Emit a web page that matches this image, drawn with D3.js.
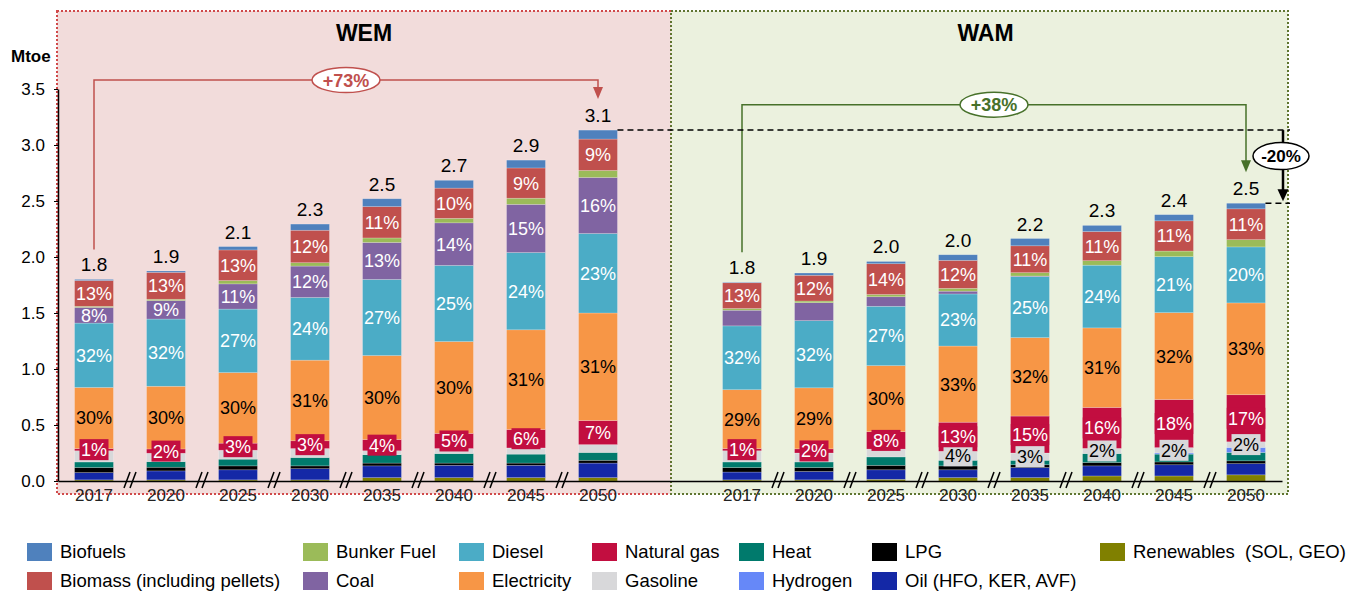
<!DOCTYPE html>
<html>
<head>
<meta charset="utf-8">
<script src="https://cdn.jsdelivr.net/npm/d3@7"></script>
<style>
  body { margin: 0; background: #fff; }
  text { font-family: "Liberation Sans", Arial, sans-serif; }
</style>
</head>
<body>
<svg id="chart" width="1353" height="591"></svg>
<script>
// ---- data (Mtoe), first 8 = WEM, last 8 = WAM ----
const years = ["2017", "2020", "2025", "2030", "2035", "2040", "2045", "2050"];
const scenarios = ["WEM", "WAM"];

// stack order, bottom to top
const seriesNames = ["Renewables", "Oil", "LPG", "Heat", "Hydrogen", "Gasoline",
  "Natural gas", "Electricity", "Diesel", "Coal", "Bunker Fuel", "Biomass", "Biofuels"];

const renewables = [0.01, 0.01, 0.01, 0.01, 0.03, 0.03, 0.03, 0.03,   0.01, 0.01, 0.015, 0.03, 0.03, 0.045, 0.045, 0.055];
const oil        = [0.065, 0.08, 0.09, 0.10, 0.105, 0.11, 0.11, 0.13,  0.07, 0.075, 0.085, 0.07, 0.09, 0.09, 0.10, 0.10];
const lpg        = [0.045, 0.033, 0.035, 0.025, 0.025, 0.02, 0.02, 0.025, 0.04, 0.035, 0.04, 0.035, 0.025, 0.03, 0.025, 0.025];
const heat       = [0.05, 0.05, 0.06, 0.075, 0.075, 0.085, 0.08, 0.07,  0.05, 0.05, 0.075, 0.05, 0.04, 0.08, 0.07, 0.075];
const hydrogen   = [0, 0, 0, 0, 0, 0, 0, 0,                             0, 0, 0, 0, 0, 0, 0.01, 0.045];
const gasoline   = [0.10, 0.075, 0.08, 0.08, 0.035, 0.045, 0.055, 0.07, 0.10, 0.08, 0.07, 0.08, 0.065, 0.046, 0.048, 0.05];
const naturalGas = [0.02, 0.038, 0.063, 0.069, 0.10, 0.135, 0.165, 0.215, 0.02, 0.037, 0.155, 0.26, 0.33, 0.366, 0.43, 0.42];
const electricity= [0.545, 0.56, 0.63, 0.72, 0.75, 0.82, 0.89, 0.96,    0.525, 0.545, 0.59, 0.68, 0.70, 0.71, 0.775, 0.82];
const diesel     = [0.575, 0.60, 0.567, 0.56, 0.68, 0.68, 0.69, 0.71,   0.57, 0.60, 0.53, 0.465, 0.545, 0.56, 0.50, 0.50];
const coal       = [0.14, 0.165, 0.225, 0.28, 0.33, 0.38, 0.43, 0.50,   0.14, 0.16, 0.085, 0.025, 0.005, 0, 0, 0];
const bunkerFuel = [0.01, 0.012, 0.03, 0.03, 0.04, 0.04, 0.055, 0.063,  0.015, 0.015, 0.02, 0.025, 0.03, 0.04, 0.05, 0.065];
const biomass    = [0.23, 0.24, 0.273, 0.29, 0.28, 0.27, 0.27, 0.28,   0.23, 0.23, 0.275, 0.25, 0.24, 0.26, 0.27, 0.275];
const biofuels   = [0.01, 0.012, 0.03, 0.055, 0.07, 0.07, 0.07, 0.08,   0.005, 0.02, 0.02, 0.05, 0.065, 0.055, 0.055, 0.05];

// share labels shown inside the bars (null = no label)
const naturalGasLabels  = ["1%", "2%", "3%", "3%", "4%", "5%", "6%", "7%", "1%", "2%", "8%", "13%", "15%", "16%", "18%", "17%"];
const electricityLabels = ["30%", "30%", "30%", "31%", "30%", "30%", "31%", "31%", "29%", "29%", "30%", "33%", "32%", "31%", "32%", "33%"];
const dieselLabels      = ["32%", "32%", "27%", "24%", "27%", "25%", "24%", "23%", "32%", "32%", "27%", "23%", "25%", "24%", "21%", "20%"];
const coalLabels        = ["8%", "9%", "11%", "12%", "13%", "14%", "15%", "16%", null, null, null, null, null, null, null, null];
const biomassLabels     = ["13%", "13%", "13%", "12%", "11%", "10%", "9%", "9%", "13%", "12%", "14%", "12%", "11%", "11%", "11%", "11%"];
const gasolineLabels    = [null, null, null, null, null, null, null, null, null, null, null, "4%", "3%", "2%", "2%", "2%"];

const changeLabels = { WEM: "+73%", WAM: "+38%", gap: "-20%" };

const colors = {
  "Biofuels": "#4F81BD",
  "Biomass": "#C0504D",
  "Bunker Fuel": "#9BBB59",
  "Coal": "#8064A2",
  "Diesel": "#4BACC6",
  "Electricity": "#F79646",
  "Natural gas": "#C20E40",
  "Gasoline": "#D8D8DA",
  "Heat": "#007A6C",
  "Hydrogen": "#6688F8",
  "LPG": "#000000",
  "Oil": "#1428A6",
  "Renewables": "#808000"
};

const legendRow1 = [["Biofuels", "Biofuels"], ["Bunker Fuel", "Bunker Fuel"], ["Diesel", "Diesel"],
  ["Natural gas", "Natural gas"], ["Heat", "Heat"], ["LPG", "LPG"], ["Renewables", "Renewables  (SOL, GEO)"]];
const legendRow2 = [["Biomass", "Biomass (including pellets)"], ["Coal", "Coal"], ["Electricity", "Electricity"],
  ["Gasoline", "Gasoline"], ["Hydrogen", "Hydrogen"], ["Oil", "Oil (HFO, KER, AVF)"]];

// build the table
const columns = {
  "Renewables": renewables, "Oil": oil, "LPG": lpg, "Heat": heat, "Hydrogen": hydrogen,
  "Gasoline": gasoline, "Natural gas": naturalGas, "Electricity": electricity, "Diesel": diesel,
  "Coal": coal, "Bunker Fuel": bunkerFuel, "Biomass": biomass, "Biofuels": biofuels
};
const labelCols = {
  "Natural gas": naturalGasLabels, "Electricity": electricityLabels, "Diesel": dieselLabels,
  "Coal": coalLabels, "Biomass": biomassLabels, "Gasoline": gasolineLabels
};

const rows = [];
scenarios.forEach((s, si) => {
  years.forEach((y, yi) => {
    const i = si * 8 + yi;
    const r = { key: s + "-" + y, scen: s, year: y, idx: i };
    seriesNames.forEach(n => r[n] = columns[n][i]);
    r.total = d3.sum(seriesNames, n => r[n]);
    rows.push(r);
  });
});

const domainKeys = years.map(y => "WEM-" + y).concat(["gap"]).concat(years.map(y => "WAM-" + y));

// ---- layout ----
const width = 1353, height = 591;
const margin = { left: 58, right: 71, top: 89, bottom: 110 };
const svg = d3.select("#chart");

const x = d3.scaleBand()
  .domain(domainKeys)
  .range([margin.left, width - margin.right])
  .paddingInner(0.46)
  .paddingOuter(0.23);

const y = d3.scaleLinear()
  .domain([0, 3.5])
  .range([height - margin.bottom, margin.top]);

const cx = k => x(k) + x.bandwidth() / 2;

// scenario panels
const panelTop = 11, panelBottom = 494;
const wemLeft = margin.left - 1, midX = cx("gap") + 1, wamRight = width - 65;
svg.append("rect")
  .attr("x", wemLeft).attr("y", panelTop)
  .attr("width", midX - wemLeft).attr("height", panelBottom - panelTop)
  .attr("fill", "#F2DCDB").attr("stroke", "#D0494A").attr("stroke-width", 2)
  .attr("stroke-dasharray", "2,2");
svg.append("rect")
  .attr("x", midX).attr("y", panelTop)
  .attr("width", wamRight - midX).attr("height", panelBottom - panelTop)
  .attr("fill", "#EBF1DE").attr("stroke", "#5F7530").attr("stroke-width", 2)
  .attr("stroke-dasharray", "2,2");

svg.append("text").attr("x", (wemLeft + midX) / 2).attr("y", 41)
  .attr("text-anchor", "middle").style("font-size", "23px").style("font-weight", "bold").text("WEM");
svg.append("text").attr("x", (midX + wamRight) / 2 + 6).attr("y", 41)
  .attr("text-anchor", "middle").style("font-size", "23px").style("font-weight", "bold").text("WAM");

// stacked bars
const stacked = d3.stack().keys(seriesNames)(rows);

const layers = svg.append("g").selectAll("g")
  .data(stacked)
  .enter().append("g")
  .attr("fill", d => colors[d.key]);

layers.selectAll("rect")
  .data(d => d)
  .enter().append("rect")
  .attr("x", d => x(d.data.key))
  .attr("y", d => y(d[1]))
  .attr("width", x.bandwidth())
  .attr("height", d => Math.max(0, y(d[0]) - y(d[1])))
  .attr("stroke", "rgba(255,255,255,0.35)")
  .attr("stroke-width", 0.6);

// in-bar share labels
const boxed = { "Natural gas": true, "Gasoline": true };
const darkText = { "Electricity": true, "Gasoline": true };
stacked.forEach(layer => {
  const labs = labelCols[layer.key];
  if (!labs) return;
  layer.forEach(seg => {
    const t = labs[seg.data.idx];
    if (!t) return;
    const mx = cx(seg.data.key);
    const my = (y(seg[0]) + y(seg[1])) / 2;
    const g = svg.append("g");
    if (boxed[layer.key]) {
      const w = t.length * 9.5 + 10;
      g.append("rect")
        .attr("x", mx - w / 2).attr("y", my - 10.5)
        .attr("width", w).attr("height", 21)
        .attr("fill", colors[layer.key]);
    }
    g.append("text")
      .attr("x", mx).attr("y", my).attr("dy", "0.36em")
      .attr("text-anchor", "middle")
      .style("font-size", "18px")
      .attr("fill", darkText[layer.key] ? "#000" : "#fff")
      .text(t);
  });
});

// totals above bars
svg.append("g").selectAll("text")
  .data(rows)
  .enter().append("text")
  .attr("x", d => cx(d.key))
  .attr("y", d => y(d.total) - 8)
  .attr("text-anchor", "middle")
  .style("font-size", "19px")
  .text(d => d3.format(".1f")(d.total));

// y axis
const yAxis = svg.append("g")
  .attr("transform", `translate(${margin.left},0)`)
  .call(d3.axisLeft(y).tickValues(d3.range(0, 3.51, 0.5)).tickFormat(d3.format(".1f")).tickSize(4).tickPadding(9).tickSizeOuter(0));
yAxis.select(".domain").attr("stroke", "#000").attr("stroke-width", 1.5);
yAxis.selectAll("text").style("font-size", "17px").attr("fill", "#000").style("font-family", "Liberation Sans, Arial, sans-serif");

svg.append("text").attr("x", 11).attr("y", 62)
  .style("font-size", "17px").style("font-weight", "bold").text("Mtoe");

// x axis
const xAxis = svg.append("g")
  .attr("transform", `translate(0,${y(0)})`)
  .call(d3.axisBottom(x).tickSize(0).tickPadding(8).tickSizeOuter(0)
    .tickFormat(k => k === "gap" ? "" : k.split("-")[1]));
xAxis.select(".domain").attr("stroke", "#000").attr("stroke-width", 1.5);
xAxis.selectAll("text").style("font-size", "17px").attr("fill", "#222").style("font-family", "Liberation Sans, Arial, sans-serif");

// axis break marks between years
const breaks = [];
scenarios.forEach(s => {
  for (let i = 1; i < years.length; i++) {
    breaks.push((cx(s + "-" + years[i - 1]) + cx(s + "-" + years[i])) / 2);
  }
});
const brk = svg.append("g").attr("stroke", "#000").attr("stroke-width", 1.5);
breaks.forEach(b => {
  const y0 = y(0);
  brk.append("line").attr("x1", b - 6).attr("y1", y0 + 7).attr("x2", b).attr("y2", y0 - 9);
  brk.append("line").attr("x1", b).attr("y1", y0 + 7).attr("x2", b + 6).attr("y2", y0 - 9);
});

// ---- growth annotations ----
function arrowHead(px, py, color, w, h) {
  svg.append("path")
    .attr("d", `M${px - w / 2},${py - h} L${px + w / 2},${py - h} L${px},${py} Z`)
    .attr("fill", color);
}

function growth(scen, level, color) {
  const first = rows.find(r => r.scen === scen && r.year === years[0]);
  const last = rows.find(r => r.scen === scen && r.year === years[years.length - 1]);
  const x1 = cx(first.key), x2 = cx(last.key);
  const yl = y(level);
  const yStart = y(first.total) - 30;
  const yEnd = y(last.total) - 31;
  svg.append("path")
    .attr("d", `M${x1},${yStart} V${yl} H${x2} V${yEnd - 10}`)
    .attr("fill", "none").attr("stroke", color).attr("stroke-width", 1.5);
  arrowHead(x2, yEnd, color, 10, 12);
  const mx = (x1 + x2) / 2;
  svg.append("ellipse").attr("cx", mx).attr("cy", yl).attr("rx", 34).attr("ry", 12.5)
    .attr("fill", "#fff").attr("stroke", color).attr("stroke-width", 1.5);
  svg.append("text").attr("x", mx).attr("y", yl).attr("dy", "0.36em")
    .attr("text-anchor", "middle").style("font-size", "18px").style("font-weight", "bold")
    .attr("fill", color).text(changeLabels[scen]);
}
growth("WEM", 3.58, "#C0504D");
growth("WAM", 3.36, "#47712A");

// WAM vs WEM in 2050
const wem50 = rows.find(r => r.key === "WEM-2050");
const wam50 = rows.find(r => r.key === "WAM-2050");
const dashEnd = wamRight + 2;
svg.append("line")
  .attr("x1", x("WEM-2050") + x.bandwidth()).attr("x2", dashEnd)
  .attr("y1", y(wem50.total)).attr("y2", y(wem50.total))
  .attr("stroke", "#000").attr("stroke-width", 1.5).attr("stroke-dasharray", "6,4");
svg.append("line")
  .attr("x1", x("WAM-2050") + x.bandwidth()).attr("x2", dashEnd)
  .attr("y1", y(wam50.total)).attr("y2", y(wam50.total))
  .attr("stroke", "#000").attr("stroke-width", 1.5).attr("stroke-dasharray", "6,4");

const ax = wamRight - 5;
const yTop = y(wem50.total), yBot = y(wam50.total) - 2;
const ey = yTop + 26;
svg.append("line").attr("x1", ax).attr("x2", ax).attr("y1", yTop).attr("y2", yBot - 10)
  .attr("stroke", "#000").attr("stroke-width", 2.5);
arrowHead(ax, yBot, "#000", 11, 12);
svg.append("ellipse").attr("cx", ax - 2).attr("cy", ey).attr("rx", 28).attr("ry", 13.5)
  .attr("fill", "#fff").attr("stroke", "#000").attr("stroke-width", 1.5);
svg.append("text").attr("x", ax - 2).attr("y", ey).attr("dy", "0.36em")
  .attr("text-anchor", "middle").style("font-size", "17px").style("font-weight", "bold")
  .text(changeLabels.gap);

// ---- legend ----
const legendCols = [27, 303, 459, 592, 739, 872, 1100];
const legendRows = [[legendRow1, 552], [legendRow2, 581]];
const legend = svg.append("g");
legendRows.forEach(([items, ly]) => {
  items.forEach(([key, label], i) => {
    legend.append("rect")
      .attr("x", legendCols[i]).attr("y", ly - 9)
      .attr("width", 25).attr("height", 18)
      .attr("fill", colors[key]);
    legend.append("text")
      .attr("x", legendCols[i] + 33).attr("y", ly).attr("dy", "0.35em")
      .style("font-size", "18.5px")
      .attr("xml:space", "preserve")
      .text(label);
  });
});
</script>
</body>
</html>
